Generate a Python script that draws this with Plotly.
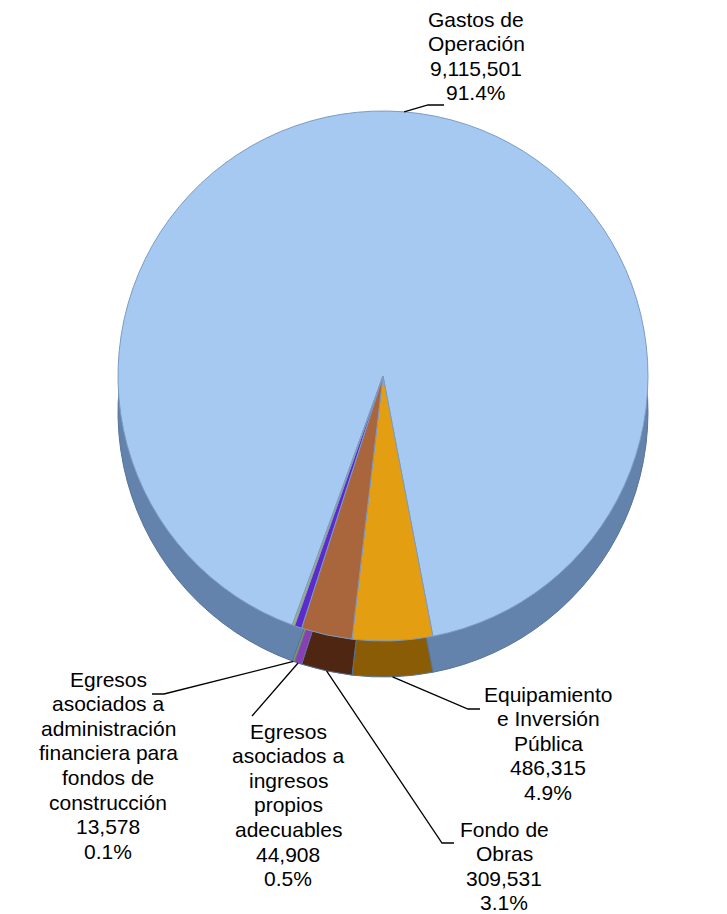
import numpy as np
import plotly.graph_objects as go

# data
labels = [
    "Gastos de<br>Operación",
    "Equipamiento<br>e Inversión<br>Pública",
    "Fondo de<br>Obras",
    "Egresos<br>asociados a<br>ingresos<br>propios<br>adecuables",
    "Egresos<br>asociados a<br>administración<br>financiera para<br>fondos de<br>construcción",
]
values = [9115501, 486315, 309531, 44908, 13578]
colors = ["#A6C9F2", "#E49E12", "#A9653B", "#5B2BCB", "#A9B36B"]
side_colors = ["#6483AC", "#8A5C05", "#4E2612", "#8A3DB5", "#8E9656"]

W, H = 727, 914
cx, cy, r = 375, 368, 265  # pie centre / radius in pixels
depth = 36                 # fake 3d thickness
rotation = 200
line_gap = 24.6
text_shift = -9            # plotly draws the glyphs a bit below the anchor

# first text line centre of each label block (px) and its leader line
label_pos = [(468, 20), (540, 695), (496, 830), (280, 732), (100, 680)]
leader_end = [(436, 97), (472, 701), (446, 835), (244, 708), (144, 686)]
leader_elbow = [(420, 97), (460, 701), (434, 835), None, (156, 686)]


def px(x, y):
    return x / W, 1 - y / H


def pie_domain(dy):
    return dict(x=[(cx - r) / W, (cx + r) / W],
                y=[1 - (cy + dy + r) / H, 1 - (cy + dy - r) / H])


total = sum(values)
names = [l.replace("<br>", " ") for l in labels]
fig = go.Figure()
# side of the pie, drawn underneath and lower
fig.add_trace(go.Pie(
    labels=names, values=values, sort=False, direction="clockwise",
    rotation=rotation, textinfo="none", hoverinfo="skip",
    marker=dict(colors=side_colors, line=dict(color="#56749A", width=1)),
    domain=pie_domain(depth), showlegend=False,
))
fig.add_trace(go.Pie(
    labels=names, values=values, sort=False, direction="clockwise",
    rotation=rotation, textinfo="none",
    marker=dict(colors=colors, line=dict(color="#7E9BC2", width=1)),
    domain=pie_domain(0), showlegend=False,
))

cum = np.cumsum([0] + values[:-1])
shapes = []
for i, v in enumerate(values):
    ang = np.radians(rotation + 360 * (cum[i] + v / 2) / total)
    front = np.cos(ang) < -0.5  # leader touches the side face at the front
    tx = cx + r * np.sin(ang)
    ty = cy - r * np.cos(ang) + (depth if front else 0)
    pts = [(tx, ty)]
    if leader_elbow[i] is not None:
        pts.append(leader_elbow[i])
    pts.append(leader_end[i])
    path = "M " + " L ".join("%f,%f" % px(*p) for p in pts)
    shapes.append(dict(type="path", xref="paper", yref="paper", path=path,
                       line=dict(color="black", width=1.3)))

    lines = labels[i].split("<br>") + [f"{v:,}", "%.1f%%" % (v / total * 100)]
    x0, y0 = label_pos[i]
    for k, t in enumerate(lines):
        x, y = px(x0, y0 + k * line_gap + text_shift)
        fig.add_annotation(
            x=x, y=y, xref="paper", yref="paper", showarrow=False, text=t,
            font=dict(family="Liberation Sans, Arial", size=21, color="black"),
            xanchor="center", yanchor="middle",
        )

fig.update_layout(
    width=W, height=H,
    margin=dict(l=0, r=0, t=0, b=0),
    paper_bgcolor="white",
    plot_bgcolor="white",
    shapes=shapes,
)
fig.write_html("out.html")
